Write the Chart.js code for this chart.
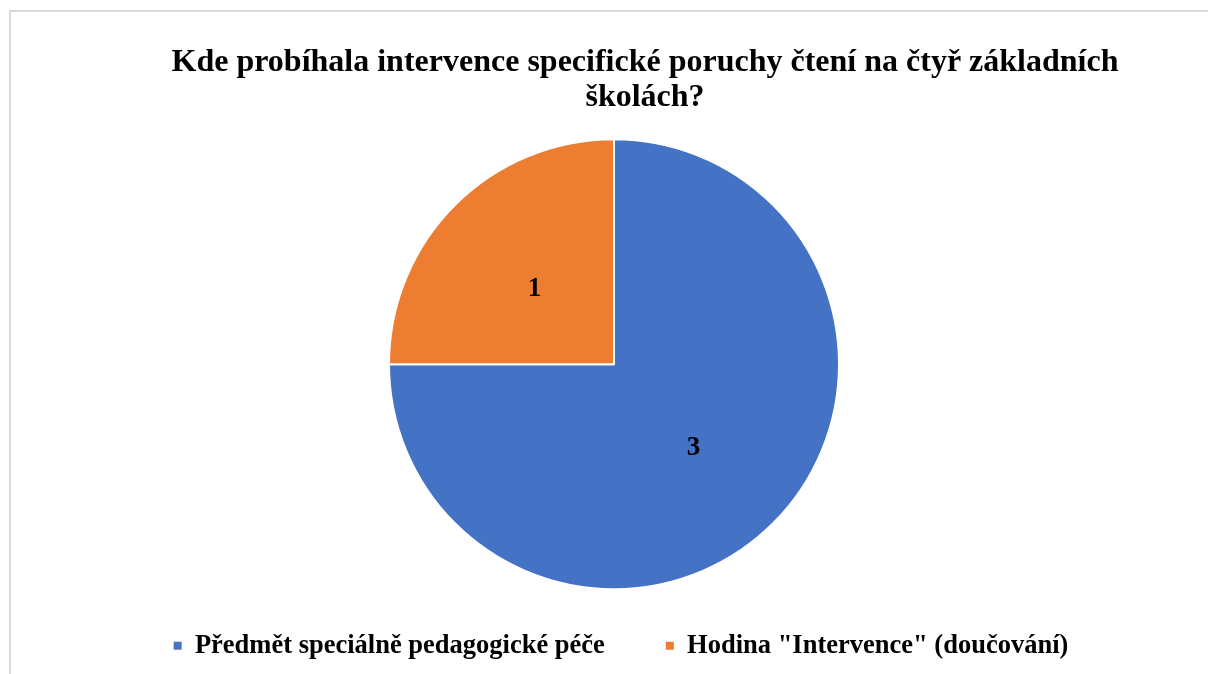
<!DOCTYPE html>
<html>
<head>
<meta charset="utf-8">
<script src="https://cdn.jsdelivr.net/npm/chart.js@4/dist/chart.umd.min.js"></script>
<style>
  html, body { margin: 0; padding: 0; background: #fff; overflow: hidden; }
  #frame {
    position: absolute; left: 9px; top: 10px;
    border-left: 2px solid #d9d9d9; border-top: 2px solid #d9d9d9;
  }
  canvas { display: block; }
</style>
</head>
<body>
<div id="frame"><canvas id="chart" width="1280" height="675"></canvas></div>
<script>
const titleLines = ['Kde probíhala intervence specifické poruchy čtení na čtyř základních', 'školách?'];
const categories = ['Předmět speciálně pedagogické péče', 'Hodina "Intervence" (doučování)'];
const values = [3, 1];
const colors = ['#4472C4', '#ED7D31'];

const serif = '"Liberation Serif", "Times New Roman", serif';

// vypise hodnoty do stredu vysece
const sliceLabels = {
  id: 'sliceLabels',
  afterDatasetsDraw(chart) {
    let ctx = chart.ctx;
    let meta = chart.getDatasetMeta(0);
    ctx.save();
    ctx.font = 'bold 27px ' + serif;
    ctx.fillStyle = '#000';
    ctx.textAlign = 'center';
    ctx.textBaseline = 'middle';
    meta.data.forEach((arc, i) => {
      let p = arc.tooltipPosition(true);
      ctx.fillText(String(values[i]), p.x, p.y + 4);
    });
    ctx.restore();
  }
};

// posun titulku a legendy jako v puvodnim grafu
const nudge = {
  id: 'nudge',
  afterLayout(chart, args, opts) {
    let t = chart.titleBlock, l = chart.legend;
    if (t) { t.left += opts.titleX; t.right += opts.titleX; }
    if (l) {
      l.left += opts.legendX; l.right += opts.legendX;
      l.top += opts.legendY; l.bottom += opts.legendY;
    }
  }
};

const ctx = document.getElementById('chart').getContext('2d');

new Chart(ctx, {
  type: 'pie',
  data: {
    labels: categories,
    datasets: [{
      data: values,
      backgroundColor: colors,
      borderColor: '#ffffff',
      borderWidth: 2,
      radius: 225,
    }],
  },
  options: {
    responsive: false,
    animation: false,
    layout: { padding: { left: 0, right: 74, top: 0, bottom: 0 } },
    plugins: {
      title: {
        display: true,
        text: titleLines,
        color: '#000',
        font: { family: serif, size: 32, weight: 'bold', lineHeight: 1.1 },
        padding: { top: 33, bottom: 23.5 },
      },
      legend: {
        position: 'bottom',
        labels: {
          color: '#000',
          font: { family: serif, size: 26.5, weight: 'bold' },
          usePointStyle: true,
          pointStyle: 'rect',
          boxWidth: 8,
          boxHeight: 8,
          padding: 61,
          generateLabels: (chart) =>
            Chart.overrides.pie.plugins.legend.labels.generateLabels(chart)
              .map(l => ({ ...l, lineWidth: 0 })),
        },
      },
      tooltip: { enabled: false },
      nudge: { titleX: 31, legendX: 7, legendY: -18 },
    },
  },
  plugins: [sliceLabels, nudge],
});
</script>
</body>
</html>
